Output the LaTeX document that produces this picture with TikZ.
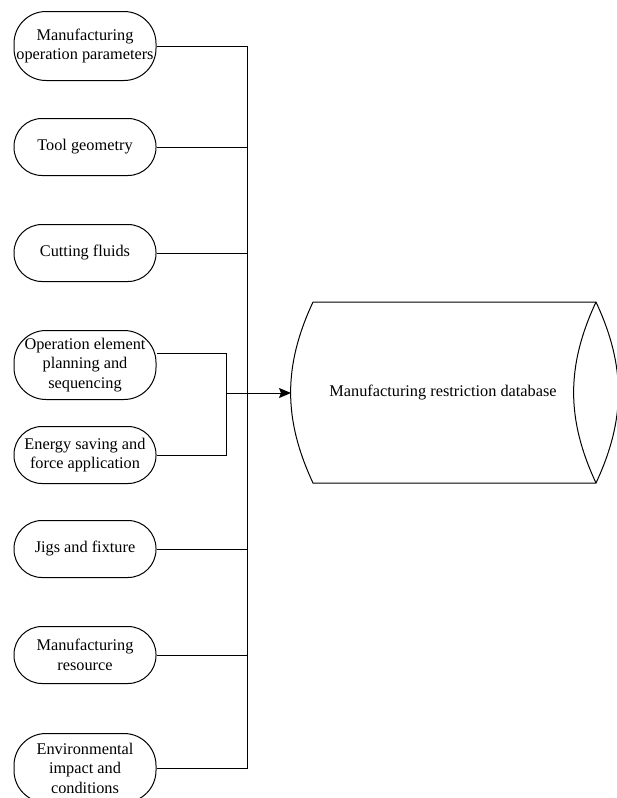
\documentclass[tikz,border=0pt]{standalone}
\usepackage{fontspec}
\setmainfont{Liberation Serif}
\newfontfamily\labelfont{Liberation Serif}
\usetikzlibrary{arrows.meta}

\begin{document}
\begin{tikzpicture}[x=1pt, y=1pt, line width=1pt,
    every node/.style={font=\labelfont\fontsize{16.3}{19.5}\selectfont},
    pill/.style={draw, rectangle, rounded corners=28pt, minimum width=142pt,
                 minimum height=57pt, inner sep=0pt, align=center},
    tallpill/.style={pill, minimum height=69pt, rounded corners=32pt}]
  \useasboundingbox (0,0) rectangle (616,-798);
  % input items
  \node[tallpill] (mop)    at (85,-46)  {Manufacturing\\operation parameters};
  \node[pill]     (tool)   at (85,-147) {Tool geometry};
  \node[pill]     (fluid)  at (85,-253) {Cutting fluids};
  \node[tallpill] (opel)   at (85,-365) {Operation element\\planning and\\sequencing};
  \node[pill]     (energy) at (85,-455) {Energy saving and\\force application};
  \node[pill]     (jig)    at (85,-549) {Jigs and fixture};
  \node[pill]     (res)    at (85,-655) {Manufacturing\\resource};
  \node[tallpill] (env)    at (85,-768) {Environmental\\impact and\\conditions};
  % database
  \coordinate (dbtl) at (313,-302);
  \coordinate (dbtr) at (596,-302);
  \coordinate (dbbr) at (596,-483);
  \coordinate (dbbl) at (313,-483);
  \coordinate (dbin) at (291,-393);
  \draw (dbtl) -- (dbtr) to[bend left=25] (dbbr) -- (dbbl) to[bend left=25] (dbtl);
  \draw (dbtr) to[bend right=25] (dbbr);
  \node (db) at (443,-393) {Manufacturing restriction database};
  % buses
  \coordinate (bus) at (247.5,0);
  \coordinate (inbus) at (226,0);
  \draw (mop.east -| bus) -- (env.east -| bus);
  \foreach \n in {mop,tool,fluid,jig,res,env}
    \draw (\n.east) -- (\n.east -| bus);
  \coordinate (opout) at ([yshift=12pt]opel.east);
  \draw (opout) -| (inbus |- energy.east) -- (energy.east);
  \draw[-{Stealth[length=12pt,width=10pt,inset=2pt]}] (inbus |- dbin) -- (dbin);
\end{tikzpicture}
\end{document}
